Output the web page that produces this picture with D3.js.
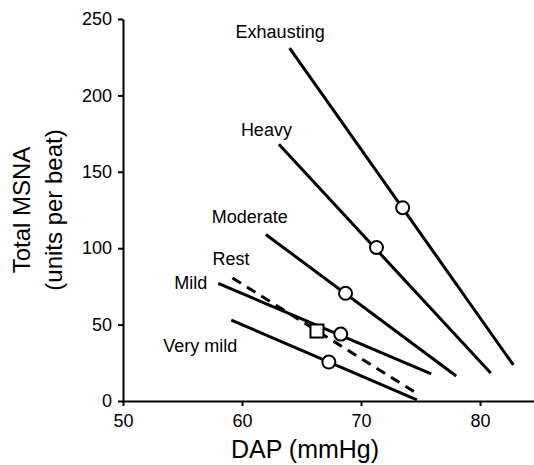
<!DOCTYPE html>
<html>
<head>
<meta charset="utf-8">
<script src="https://cdn.jsdelivr.net/npm/d3@7"></script>
<style>
  html, body { margin: 0; padding: 0; background: #fff; }
  svg { display: block; font-family: "Liberation Sans", Arial, sans-serif; }
</style>
</head>
<body>
<svg id="chart"></svg>
<script>
// exercise conditions, one regression line each
const conditions = ["Very mild", "Mild", "Rest", "Moderate", "Heavy", "Exhausting"];
const startDAP  = [59.1, 58.0, 59.2, 62.0, 63.1, 64.0];
const startMSNA = [53, 77, 80.5, 109, 168, 231];
const endDAP    = [74.7, 75.9, 74.9, 78.0, 80.9, 82.8];
const endMSNA   = [0.7, 17.7, 4, 16.4, 18.3, 23.6];
// mean point on each line
const meanDAP   = [67.3, 68.3, 66.3, 68.7, 71.3, 73.5];
const meanMSNA  = [25.5, 43.8, 45.8, 70.5, 100.5, 126.5];

const xTicks = [50, 60, 70, 80];
const yTicks = [0, 50, 100, 150, 200, 250];

const dim = {
    width: 534,
    height: 465,
    left: 123,
    bottom: 401,
    top: 19,
    right: 539.5
};

// label offsets from line start, in pixels
const labelOffset = {
    "Very mild": [-68, 32],
    "Mild": [-44, 6],
    "Rest": [-20, -13],
    "Moderate": [-54, -11],
    "Heavy": [-38, -8],
    "Exhausting": [-54, -10]
};

const svg = d3.select("#chart")
    .attr("width", dim.width)
    .attr("height", dim.height);

svg.append("rect")
    .attr("width", dim.width)
    .attr("height", dim.height)
    .attr("fill", "#fff");

const x = d3.scaleLinear().domain([50, 85]).range([dim.left, dim.right]);
const y = d3.scaleLinear().domain([0, 250]).range([dim.bottom, dim.top]);

const xAxis = d3.axisBottom(x).tickValues(xTicks).tickSize(5).tickSizeOuter(0).tickPadding(8);
const yAxis = d3.axisLeft(y).tickValues(yTicks).tickSize(5).tickSizeOuter(0).tickPadding(6);

const gx = svg.append("g")
    .attr("transform", "translate(0," + dim.bottom + ")")
    .call(xAxis);
const gy = svg.append("g")
    .attr("transform", "translate(" + dim.left + ",0)")
    .call(yAxis);

[gx, gy].forEach(function(g) {
    g.select(".domain").attr("stroke", "#000").attr("stroke-width", 2);
    g.selectAll(".tick line").attr("stroke", "#000").attr("stroke-width", 2);
    g.selectAll(".tick text")
        .attr("fill", "#000")
        .style("font-size", "18px")
        .style("font-family", "Liberation Sans, Arial, sans-serif");
});

// axis titles
svg.append("text")
    .attr("x", 305)
    .attr("y", 458)
    .attr("text-anchor", "middle")
    .style("font-size", "25px")
    .text("DAP (mmHg)");

const yt = svg.append("text")
    .attr("transform", "translate(30," + ((dim.top + dim.bottom) / 2) + ") rotate(-90)")
    .attr("text-anchor", "middle")
    .style("font-size", "24px");
yt.append("tspan").attr("x", 0).attr("dy", 0).text("Total MSNA");
yt.append("tspan").attr("x", 0).attr("dy", 32).text("(units per beat)");

const rows = conditions.map(function(c, i) {
    return {
        name: c,
        x1: startDAP[i], y1: startMSNA[i],
        x2: endDAP[i], y2: endMSNA[i],
        mx: meanDAP[i], my: meanMSNA[i]
    };
});

// lines
svg.append("g").selectAll("line")
    .data(rows)
    .join("line")
    .attr("x1", d => x(d.x1))
    .attr("y1", d => y(d.y1))
    .attr("x2", d => x(d.x2))
    .attr("y2", d => y(d.y2))
    .attr("stroke", "#000")
    .attr("stroke-width", 3)
    .attr("stroke-dasharray", d => d.name === "Rest" ? "10,7" : null);

// labels
svg.append("g").selectAll("text")
    .data(rows)
    .join("text")
    .attr("x", d => x(d.x1) + labelOffset[d.name][0])
    .attr("y", d => y(d.y1) + labelOffset[d.name][1])
    .style("font-size", "18px")
    .text(d => d.name);

// mean markers: square for rest, circles for exercise
const markers = svg.append("g");
markers.selectAll("circle")
    .data(rows.filter(d => d.name !== "Rest"))
    .join("circle")
    .attr("cx", d => x(d.mx))
    .attr("cy", d => y(d.my))
    .attr("r", 6.5)
    .attr("fill", "#fff")
    .attr("stroke", "#000")
    .attr("stroke-width", 2);

markers.selectAll("rect")
    .data(rows.filter(d => d.name === "Rest"))
    .join("rect")
    .attr("x", d => x(d.mx) - 6.5)
    .attr("y", d => y(d.my) - 6.5)
    .attr("width", 13)
    .attr("height", 13)
    .attr("fill", "#fff")
    .attr("stroke", "#000")
    .attr("stroke-width", 2);
</script>
</body>
</html>
